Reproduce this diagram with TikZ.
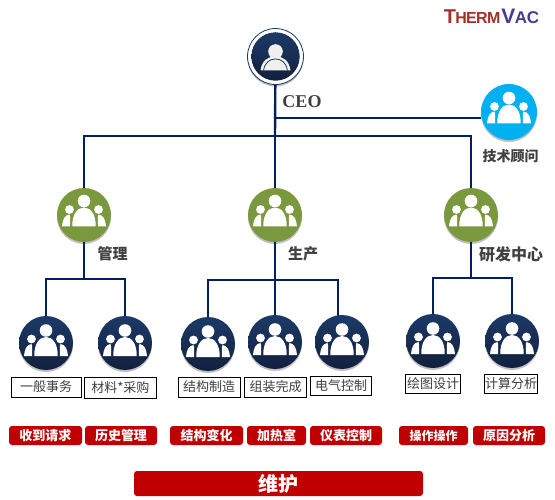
\documentclass[tikz,border=0pt]{standalone}
\usepackage{fontspec}
\setmainfont{Liberation Serif}
\newfontfamily\cjk{Noto Sans CJK SC}
\newfontfamily\logofont{Liberation Sans}
\usetikzlibrary{shadows,positioning}
\definecolor{Navy}{RGB}{0,32,96}
\definecolor{DeepTop}{RGB}{28,58,104}
\definecolor{DeepBot}{RGB}{18,32,62}
\definecolor{Olive}{RGB}{122,152,62}
\definecolor{Sky}{RGB}{0,176,240}
\definecolor{Crimson}{RGB}{192,0,0}
\definecolor{Ink}{RGB}{64,64,64}
\definecolor{LogoRed}{RGB}{165,48,42}
\definecolor{LogoBlue}{RGB}{74,60,140}
\newcommand{\fsize}[1]{\fontsize{#1}{#1}\selectfont}
\tikzset{
  disc/.style={circle,minimum size=54pt,inner sep=0pt,
               drop shadow={shadow xshift=0pt,shadow yshift=-2pt,fill=black!55,opacity=.45}},
  gnode/.style={disc,fill=Olive},
  mnode/.style={disc,top color=DeepTop,bottom color=DeepBot},
  anode/.style={disc,minimum size=56pt,fill=Sky},
  cnode/.style={disc,minimum size=56pt,draw=DeepTop,line width=.8pt,fill=white},
  dept/.style={font=\cjk\bfseries\fsize{15},text=Ink,inner sep=0pt},
  tag/.style={draw=black,line width=.8pt,fill=white,font=\cjk\fsize{13},text=Ink,inner sep=0pt},
  duty/.style={rounded corners=3pt,fill=Crimson,font=\cjk\bfseries\fsize{13},text=white,
               inner sep=0pt,minimum height=19pt},
  orgline/.style={Navy,line width=2pt},
  crowd/.pic={
    \fill[pic actions] (0,-14) circle (6.3);
    \fill[pic actions] (-14.5,-5.5) circle (4.4);
    \fill[pic actions] (14.5,-5.5) circle (4.4);
    \fill[pic actions] (-11.7,11.5) .. controls (-12,0) and (-7,-7.5) .. (0,-7.5)
       .. controls (7,-7.5) and (12,0) .. (11.7,11.5) -- cycle;
    \fill[pic actions] (-22,11.5) .. controls (-21.5,5) and (-19.5,0) .. (-14.5,-.5)
       .. controls (-13.5,1) and (-14,6) .. (-14,11.5) -- cycle;
    \fill[pic actions] (22,11.5) .. controls (21.5,5) and (19.5,0) .. (14.5,-.5)
       .. controls (13.5,1) and (14,6) .. (14,11.5) -- cycle;
  },
}
\begin{document}
\begin{tikzpicture}[x=1pt,y=-1pt]
  \useasboundingbox (0,0) rectangle (555,500);
  \node (logo) at (491.5,16.5) {\logofont\bfseries\color{LogoRed}\fsize{20}T\kern-.8pt\fsize{16}H\kern-.8pt E\kern-.6pt R\kern-.6pt M\kern1pt\color{LogoBlue}\fsize{21}V\kern-.5pt\fsize{17}A\kern-.3pt C};

  \node[cnode] (ceo) at (275.5,56.5) {};
  \fill[top color=DeepTop,bottom color=DeepBot] (ceo) circle (24);
  \fill[white!94!black] (275.5,51.5) circle (7.3);
  \fill[white!94!black] (260.5,70.5) .. controls (262,60) and (268,56.5) .. (275.5,56.5)
     .. controls (283,56.5) and (289,60) .. (290.5,70.5) -- cycle;
  \draw[DeepTop,line width=.8pt] (263.5,70.5) .. controls (265,62) and (270,59) .. (275.5,59)
     .. controls (281,59) and (286,62) .. (287.5,70.5);
  \node[font=\bfseries\fsize{18},text=Ink,inner sep=0pt] (ceotxt) at (302,102) {CEO};

  \node[anode] (adv) at (509,112) {};
  \pic[white] at (adv) {crowd};
  \node[dept,font=\cjk\bfseries\fsize{14}] (advtxt) at (510.5,156) {技术顾问};

  \node[gnode] (admin) at (84,215) {};
  \node[gnode] (prod) at (275,215) {};
  \node[gnode] (rnd) at (471,215) {};
  \foreach \n in {admin,prod,rnd} \pic[white] at (\n) {crowd};
  \node[dept] (admintxt) at (112.5,254) {管理};
  \node[dept] (prodtxt) at (303,254) {生产};
  \node[dept,font=\cjk\bfseries\fsize{16}] (rndtxt) at (511,254) {研发中心};

  \node[mnode] (gen) at (46,343) {};
  \node[mnode] (mat) at (125,343) {};
  \node[mnode] (stru) at (208,344) {};
  \node[mnode] (asm) at (275,342) {};
  \node[mnode] (ele) at (342,342) {};
  \node[mnode] (drw) at (433,341) {};
  \node[mnode] (cal) at (512,341) {};
  \foreach \n in {gen,mat,stru,asm,ele,drw,cal} \pic[white,yshift=-1.5pt] at (\n) {crowd};

  \coordinate (advjoin) at (275,117.7);
  \coordinate (bus) at (275,136);
  \coordinate (adminbus) at (84,279);
  \coordinate (prodbus) at (275,280);
  \coordinate (elebus) at (338,280);
  \coordinate (elefoot) at (338,316);
  \coordinate (rndbus) at (471,278);
  \draw[orgline,line width=2.4pt] (ceo) -- (bus);
  \draw[orgline] (advjoin) -- (advjoin -| adv.west);
  \draw[orgline] (admin) |- (bus) -| (rnd);
  \draw[orgline] (bus) -- (prod);
  \draw[orgline] (admin) -- (adminbus);
  \draw[orgline] (prod) -- (prodbus);
  \draw[orgline] (rnd) -- (rndbus);
  \draw[orgline] (gen) |- (adminbus) -| (mat);
  \draw[orgline] (stru) |- (elebus) -- (elefoot);
  \draw[orgline] (drw) |- (rndbus) -| (cal);
  \draw[orgline] (prodbus) -- (asm);

  \node[tag,minimum width=70pt,minimum height=20pt] (gentag) at (46,387) {一般事务};
  \node[tag,minimum width=72.5pt,minimum height=21.5pt] (mattag) at (120.3,387.8) {材料*采购};
  \node[tag,minimum width=62pt,minimum height=20pt] (strutag) at (209,387) {结构制造};
  \node[tag,minimum width=61.5pt,minimum height=20pt] (asmtag) at (275.5,387) {组装完成};
  \node[tag,minimum width=61.5pt,minimum height=19.5pt] (eletag) at (341,386) {电气控制};
  \node[tag,minimum width=55.7pt,minimum height=19.6pt] (drwtag) at (433,384) {绘图设计};
  \node[tag,minimum width=53.7pt,minimum height=19.6pt] (caltag) at (511,384) {计算分析};

  \node[duty,minimum width=73pt] (req) at (45.5,435.5) {收到请求};
  \node[duty,minimum width=72pt] (hist) at (121,435.5) {历史管理};
  \node[duty,minimum width=73pt] (chg) at (206.5,435.5) {结构变化};
  \node[duty,minimum width=59pt] (heat) at (276.5,435.5) {加热室};
  \node[duty,minimum width=72pt] (inst) at (346,435.5) {仪表控制};
  \node[duty,minimum width=69pt,font=\cjk\bfseries\fsize{12}] (oper) at (433.5,435.5) {操作操作};
  \node[duty,minimum width=72pt] (cause) at (509,435.5) {原因分析};

  \node[duty,minimum width=289pt,minimum height=25pt,font=\cjk\bfseries\fsize{20}] (maint) at (278.5,483.5) {维护};
\end{tikzpicture}
\end{document}
